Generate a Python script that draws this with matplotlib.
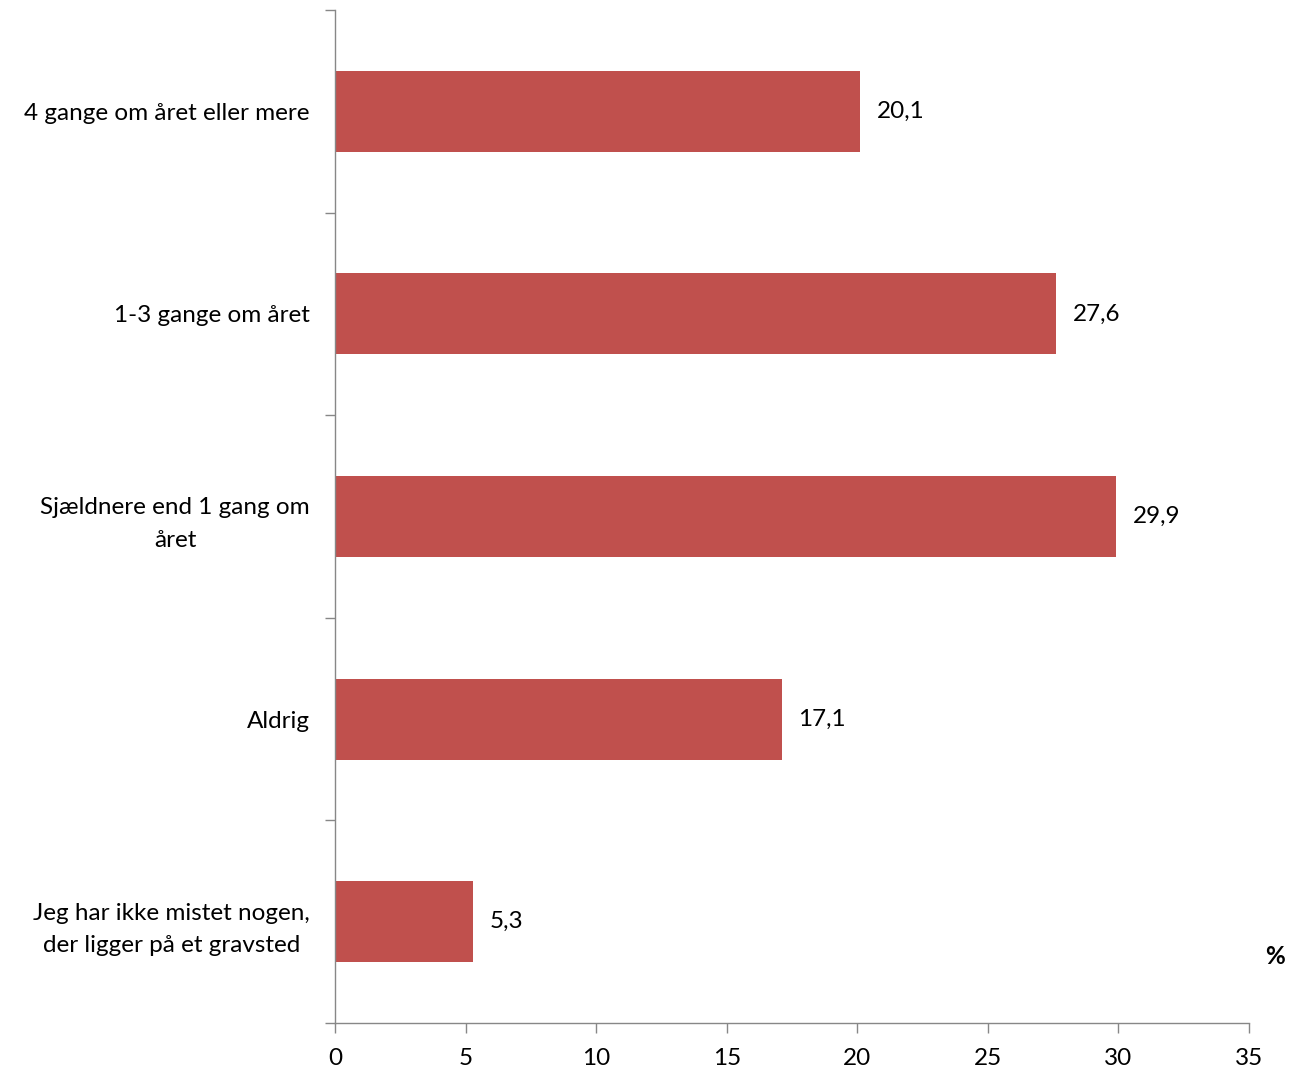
import matplotlib
matplotlib.use("Agg")
import matplotlib.pyplot as plt
from matplotlib.ticker import FixedLocator

categories = ["4 gange om året eller mere", "1-3 gange om året",
              "Sjældnere end 1 gang om\nåret", "Aldrig",
              "Jeg har ikke mistet nogen,\nder ligger på et gravsted"]
values = [20.1, 27.6, 29.9, 17.1, 5.3]
value_labels = ["20,1", "27,6", "29,9", "17,1", "5,3"]
x_ticks = [0, 5, 10, 15, 20, 25, 30, 35]

plt.rcParams['font.family'] = ['Lato', 'DejaVu Sans']
W, H = 1291, 1068
fig = plt.figure(figsize=(W/100, H/100), dpi=100)
ax = fig.add_axes([335/W, 1-1023/H, (1249-335)/W, (1023-10)/H])

FS = 17.5
pos = list(range(len(categories)))
ax.barh(pos, values, height=0.4, color="#C0504D")
ax.set_ylim(len(categories)-0.5, -0.5)
ax.set_xlim(0, 35)
ax.set_xticks(x_ticks)
ax.set_xticklabels([str(t) for t in x_ticks], fontsize=FS)

ax.set_yticks(pos)
ax.set_yticklabels(categories, fontsize=FS, multialignment='center', linespacing=1.65)
ax.tick_params(axis='y', which='major', length=0, pad=18)
ax.yaxis.set_minor_locator(FixedLocator([i - 0.5 for i in range(len(categories)+1)]))
ax.tick_params(axis='y', which='minor', length=7, color='#878787', width=1)
ax.tick_params(axis='x', which='major', length=7, color='#878787', width=1, pad=11)

for s in ['top', 'right']:
    ax.spines[s].set_visible(False)
for s in ['left', 'bottom']:
    ax.spines[s].set_color('#878787')
    ax.spines[s].set_linewidth(1)

for p, v, lab in zip(pos, values, value_labels):
    ax.annotate(lab, (v, p), xytext=(12, 0), textcoords='offset points',
                va='center', ha='left', fontsize=FS)

fig.text(1275/W, 1-957/H, "%", fontsize=FS, fontweight='bold', ha='center', va='center')

fig.savefig("out.png", dpi=100)
